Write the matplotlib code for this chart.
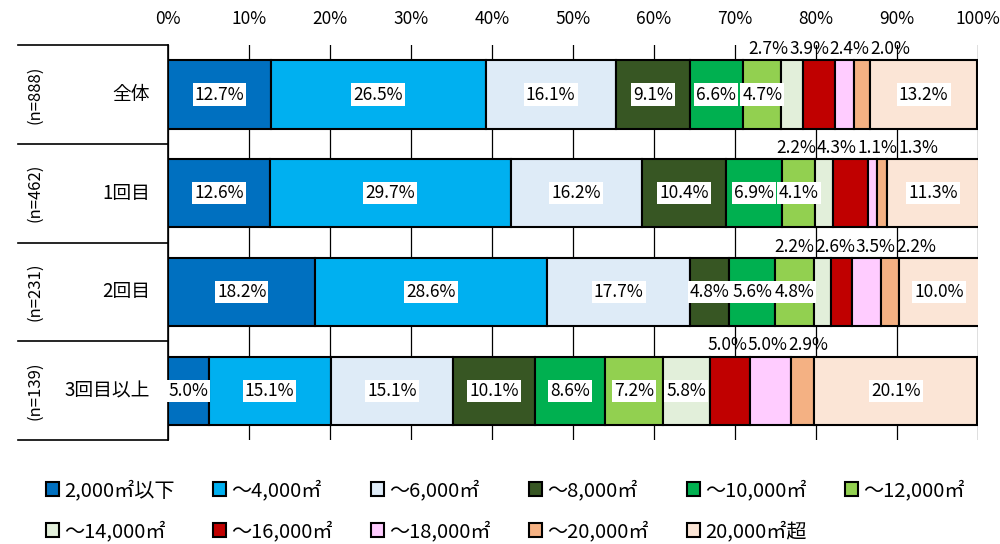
import matplotlib
matplotlib.use('Agg')
import matplotlib.pyplot as plt
import numpy as np

plt.rcParams['font.family'] = ['Noto Sans CJK JP', 'DejaVu Sans']

# data
groups = ['全体', '1回目', '2回目', '3回目以上']
counts = ['(n=888)', '(n=462)', '(n=231)', '(n=139)']
sizes = ['2,000㎡以下', '～4,000㎡', '～6,000㎡', '～8,000㎡', '～10,000㎡', '～12,000㎡',
         '～14,000㎡', '～16,000㎡', '～18,000㎡', '～20,000㎡', '20,000㎡超']
all_total = [12.7, 26.5, 16.1, 9.1, 6.6, 4.7, 2.7, 3.9, 2.4, 2.0, 13.2]
first = [12.6, 29.7, 16.2, 10.4, 6.9, 4.1, 2.2, 4.3, 1.1, 1.3, 11.3]
second = [18.2, 28.6, 17.7, 4.8, 5.6, 4.8, 2.2, 2.6, 3.5, 2.2, 10.0]
third_plus = [5.0, 15.1, 15.1, 10.1, 8.6, 7.2, 5.8, 5.0, 5.0, 2.9, 20.1]
# which segments get their label above the bar
above = [[6, 7, 8, 9], [6, 7, 8, 9], [6, 7, 8, 9], [7, 8, 9]]

colors = ['#0070C0', '#00B0F0', '#DEEBF7', '#375623', '#00B050', '#92D050',
          '#E2EFDA', '#C00000', '#FFCCFF', '#F4B183', '#FBE5D6']

values = np.array([all_total, first, second, third_plus])

fig = plt.figure(figsize=(10, 5.44), dpi=100)
ax = fig.add_axes([0.168, 0.191, 0.81, 0.726])

y = np.arange(len(groups))
left = np.zeros(len(groups))
bar_h = 0.69
fs = 12.5
for j, lab in enumerate(sizes):
    ax.barh(y, values[:, j], left=left, height=bar_h, color=colors[j],
            edgecolor='black', linewidth=1.5, label=lab, zorder=3)
    for i in range(len(groups)):
        if j not in above[i]:
            ax.text(left[i] + values[i, j] / 2, y[i], f'{values[i, j]:.1f}%',
                    ha='center', va='center', fontsize=fs, zorder=5,
                    bbox=dict(facecolor='white', edgecolor='none', pad=1.5))
    left += values[:, j]

# small segments: labels spread out in a row above the bar
step = 5.0
for i in range(len(groups)):
    idx = above[i]
    starts = np.concatenate([[0], np.cumsum(values[i])])
    centers = [(starts[k] + starts[k + 1]) / 2 for k in idx]
    mid = np.mean(centers)
    n = len(idx)
    for m, k in enumerate(idx):
        ax.text(mid + (m - (n - 1) / 2) * step, y[i] - 0.46, f'{values[i, k]:.1f}%',
                ha='center', va='center', fontsize=fs, zorder=5)

ax.set_xlim(0, 100)
ax.set_ylim(3.5, -0.5)
ax.set_xticks(np.arange(0, 101, 10))
ax.set_xticklabels([f'{t}%' for t in range(0, 101, 10)], fontsize=12.5)
ax.xaxis.tick_top()
ax.tick_params(axis='x', length=0, pad=12)
ax.set_yticks([])
ax.grid(axis='x', color='black', linewidth=0.9, zorder=0)
for s in ['top', 'right', 'bottom']:
    ax.spines[s].set_visible(False)
ax.spines['left'].set_linewidth(1.2)

# left table: row separators, group names, n counts
tr = ax.get_yaxis_transform()
for b in np.arange(-0.5, 4, 1):
    ax.plot([-0.185, 0], [b, b], color='black', linewidth=1.2, transform=tr, clip_on=False)
for i in range(len(groups)):
    ax.text(-0.022, y[i], groups[i], transform=tr, ha='right', va='center', fontsize=13.5)
    ax.text(-0.165, y[i], counts[i], transform=tr, ha='center', va='center',
            rotation=90, fontsize=12)

handles, labels = ax.get_legend_handles_labels()
order = [0, 6, 1, 7, 2, 8, 3, 9, 4, 10, 5]
leg = fig.legend([handles[k] for k in order], [labels[k] for k in order],
                 loc='lower left', bbox_to_anchor=(0.028, -0.03), ncol=6, frameon=False,
                 fontsize=14.5, handlelength=0.65, handleheight=0.65, handletextpad=0.25,
                 columnspacing=1.9, labelspacing=1.0)

fig.savefig('out.png', dpi=100)
